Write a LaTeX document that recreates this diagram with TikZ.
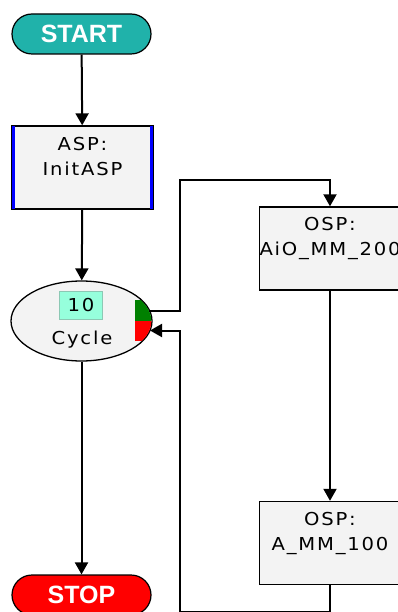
\documentclass[tikz,border=0pt]{standalone}
\usepackage{fontspec}
\setmainfont{DejaVu Sans}
\newfontfamily\boxfont[FakeStretch=1.1,LetterSpace=10]{DejaVu Sans}
\newfontfamily\termfont{Liberation Sans}
\usepackage{xcolor}
\usetikzlibrary{arrows.meta,shapes.geometric}
\definecolor{termteal}{RGB}{32,178,170}
\definecolor{boxgray}{RGB}{243,243,243}
\definecolor{countfill}{RGB}{150,255,220}
\definecolor{countedge}{RGB}{140,200,180}
\definecolor{okgreen}{RGB}{0,128,0}

\begin{document}
\begin{tikzpicture}[x=1pt,y=-1pt,
  terminal/.style={draw=black,line width=1.2pt,rounded corners=20pt,minimum width=139pt,minimum height=40pt,inner sep=0pt,text=white,font=\termfont\bfseries\fontsize{25}{25}\selectfont},
  stepbox/.style={draw=black,fill=boxgray,line width=1.4pt,minimum width=141pt,minimum height=83pt,inner sep=0pt},
  steptext/.style={font=\boxfont\fontsize{17.8}{25}\selectfont,align=center,inner sep=0pt},
  flow/.style={line width=2pt,-{Triangle[length=12pt,width=13pt]}}]
\useasboundingbox[fill=white] (0,0) rectangle (398,612);

% terminals and steps
\node[terminal,fill=termteal] (start) at (81.5,34) {START};
\node[stepbox] (asp) at (82.5,167.5) {};
\draw[blue,line width=2.5pt] ([xshift=2pt,yshift=-0.7pt]asp.north west) -- ([xshift=2pt,yshift=0.7pt]asp.south west);
\draw[blue,line width=2.5pt] ([xshift=-2pt,yshift=-0.7pt]asp.north east) -- ([xshift=-2pt,yshift=0.7pt]asp.south east);
\node[steptext] (asplbl) at (82.5,157) {ASP:\\InitASP};

% cycle
\node[ellipse,draw=black,fill=boxgray,line width=1.3pt,minimum width=141pt,minimum height=80pt] (cycle) at (81.5,321) {};
\begin{scope}
\clip (cycle.center) ellipse (69.9pt and 39.4pt);
\fill[okgreen] (135,300) rectangle (156,320.5);
\fill[red] (135,320.5) rectangle (156,341);
\end{scope}
\node[draw=countedge,fill=countfill,line width=1pt,minimum width=43pt,minimum height=28pt,inner sep=0pt,font=\boxfont\fontsize{17.8}{20}\selectfont] (count) at (81,305) {10};
\node[font=\boxfont\fontsize{17.8}{20}\selectfont,inner sep=0pt] (cyclbl) at (82,340) {Cycle};
\coordinate (cycout) at (149,310.5);
\coordinate (cycin) at (150,330.5);

\node[stepbox] (oa) at (330,248.5) {};
\node[steptext] (oalbl) at (330,238.5) {OSP:\\AiO\_MM\_200};
\node[stepbox] (ob) at (330,543) {};
\node[steptext] (oblbl) at (330,533) {OSP:\\A\_MM\_100};

\node[terminal,fill=red] (stop) at (81.5,595) {STOP};

% connectors
\draw[flow] (start) -- (asp);
\draw[flow] (asp) -- (cycle);
\draw[flow] (cycle) -- (stop);
\draw[flow] (cycout) -| (180,180) -| (oa.north);
\draw[flow] (oa) -- (ob);
\draw[flow] (ob.south) |- (180,611.5) |- (cycin);
\end{tikzpicture}
\end{document}
